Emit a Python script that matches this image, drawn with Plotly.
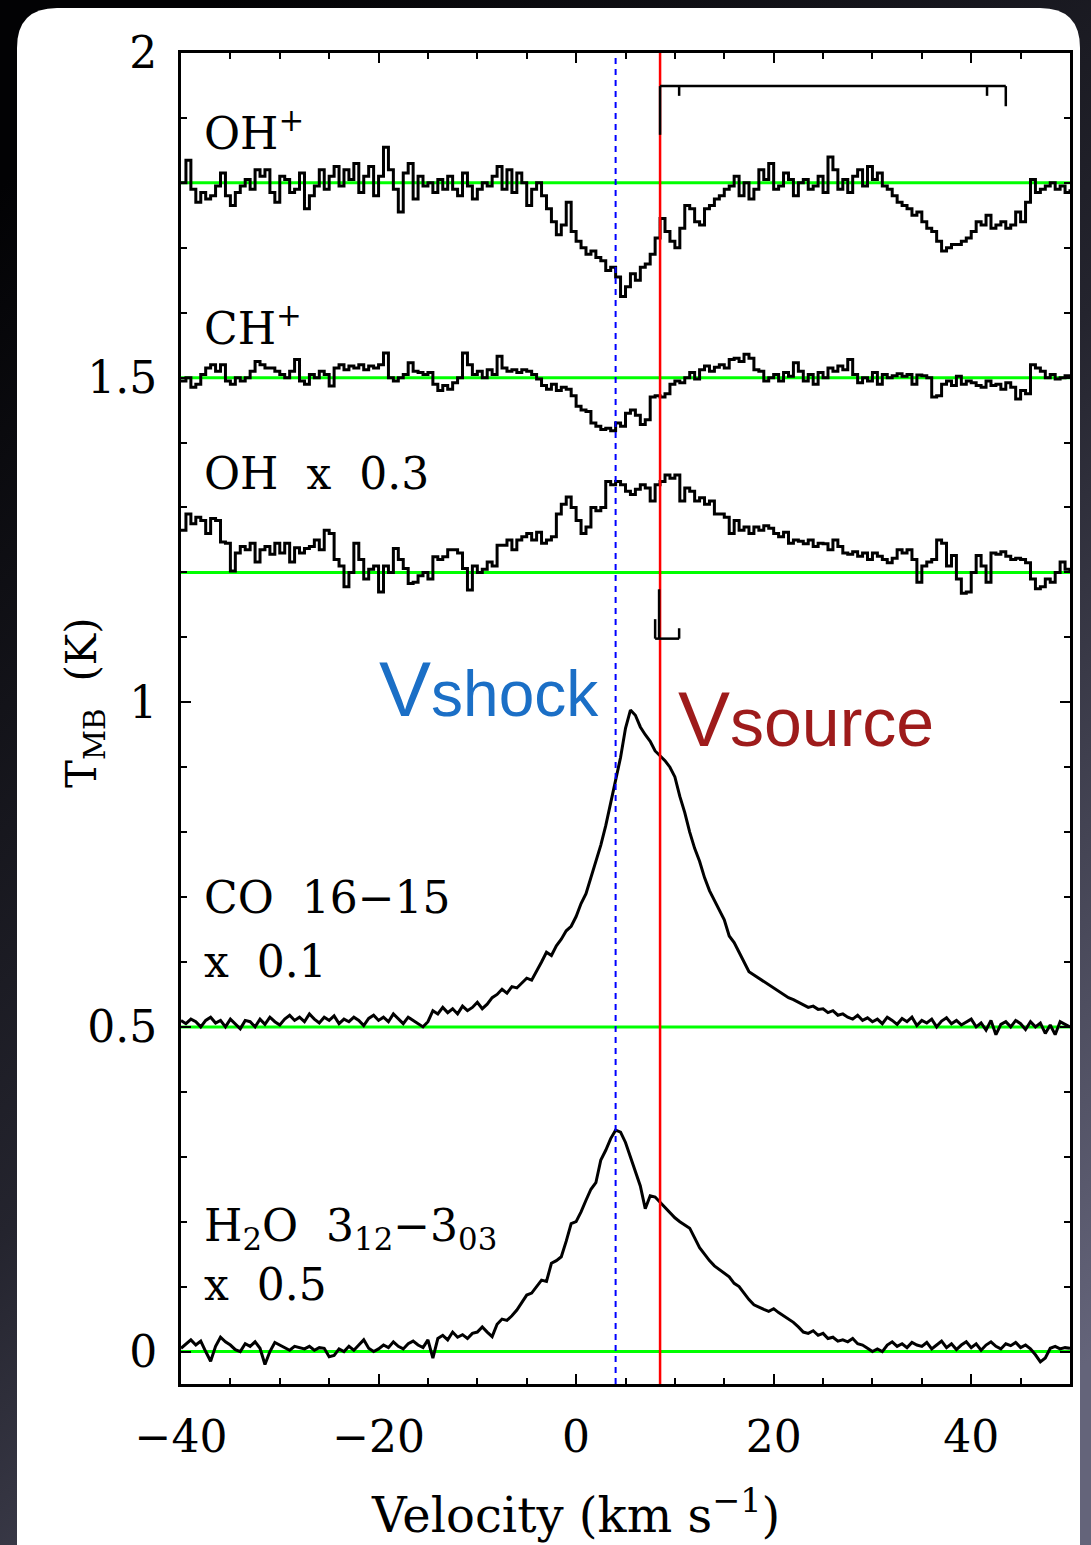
import base64
import plotly.graph_objects as go

# ---------------- data ----------------
v_start = -40.0
v_step = 0.5
n_chan = 181
velocity = [v_start + v_step * i for i in range(n_chan)]

# baselines (K) of the offset spectra
base_ohp = 1.8
base_chp = 1.5
base_oh = 1.2
base_co = 0.5
base_h2o = 0.0

# spectra relative to their baselines (K, already scaled), 0.5 km/s channels from -40 to 50
ohp = [
    0.00, 0.035, -0.01, -0.03, -0.015, -0.025, -0.02, -0.005, 0.015, -0.02,
    -0.035, -0.015, -0.005, 0.005, -0.01, 0.02, 0.01, 0.02, -0.015, -0.03,
    0.01, 0.005, -0.015, -0.01, 0.015, -0.04, -0.02, -0.005, 0.02, -0.01,
    0.01, 0.025, -0.005, 0.02, 0.005, 0.03, -0.015, 0.01, 0.025, -0.02,
    0.01, 0.055, 0.02, -0.01, -0.045, 0.015, 0.03, -0.025, 0.01, -0.005,
    0.0, -0.015, 0.005, -0.01, 0.01, -0.01, -0.02, 0.015, -0.005, -0.025,
    -0.01, 0.0, -0.005, 0.01, 0.025, -0.01, 0.02, -0.015, 0.015, 0.0,
    -0.035, -0.01, 0.0, -0.02, -0.04, -0.06, -0.08, -0.065, -0.03, -0.075,
    -0.09, -0.1, -0.11, -0.105, -0.115, -0.12, -0.135, -0.13, -0.145, -0.175,
    -0.16, -0.14, -0.15, -0.13, -0.125, -0.11, -0.085, -0.055, -0.075, -0.09,
    -0.1, -0.07, -0.035, -0.04, -0.06, -0.065, -0.04, -0.035, -0.025, -0.02,
    -0.01, -0.005, 0.01, -0.02, 0.0, -0.025, -0.01, 0.02, 0.005, 0.03,
    -0.01, -0.005, 0.015, 0.005, -0.02, 0.0, 0.005, -0.01, -0.005, 0.01,
    -0.015, 0.04, 0.02, -0.01, 0.005, -0.015, 0.01, 0.02, -0.005, 0.025,
    0.005, 0.015, -0.005, -0.01, -0.02, -0.03, -0.035, -0.04, -0.05, -0.045,
    -0.06, -0.07, -0.075, -0.09, -0.105, -0.1, -0.095, -0.095, -0.09, -0.085,
    -0.075, -0.06, -0.065, -0.05, -0.07, -0.065, -0.06, -0.07, -0.065, -0.045,
    -0.06, -0.03, 0.005, -0.015, -0.01, -0.005, 0.0, -0.01, -0.005, -0.015,
    -0.01,
]

chp = [
    -0.005, 0.0, -0.015, -0.01, 0.005, 0.015, 0.02, 0.01, 0.02, -0.005,
    -0.01, 0.0, -0.005, 0.0, 0.01, 0.025, 0.02, 0.015, 0.015, 0.01,
    0.005, 0.0, 0.01, 0.028, -0.005, -0.01, 0.005, 0.0, 0.01, 0.005,
    -0.013, 0.015, 0.02, 0.012, 0.018, 0.015, 0.02, 0.012, 0.018, 0.015,
    0.02, 0.038, 0.0, -0.005, 0.0, 0.005, 0.023, 0.01, 0.008, 0.005,
    0.008, -0.01, -0.02, -0.012, -0.018, -0.008, 0.0, 0.038, 0.02, 0.005,
    0.01, 0.0, 0.012, 0.005, 0.033, 0.015, 0.01, 0.012, 0.008, 0.012,
    0.01, 0.005, -0.002, -0.012, -0.018, -0.01, -0.02, -0.015, -0.018, -0.028,
    -0.044, -0.05, -0.052, -0.07, -0.075, -0.08, -0.078, -0.082, -0.07, -0.075,
    -0.055, -0.05, -0.058, -0.072, -0.065, -0.03, -0.028, -0.03, -0.025, -0.01,
    -0.005, -0.008, 0.0, 0.008, -0.002, 0.012, 0.018, 0.01, 0.016, 0.02,
    0.015, 0.028, 0.03, 0.025, 0.036, 0.03, 0.012, 0.01, -0.005, 0.0,
    0.005, -0.005, 0.008, 0.002, 0.023, 0.01, -0.005, 0.005, -0.01, 0.008,
    0.0, 0.015, 0.01, 0.018, 0.012, 0.028, 0.005, -0.008, 0.0, -0.005,
    0.008, -0.01, 0.005, 0.0, 0.003, 0.006, 0.002, 0.005, -0.01, 0.004,
    0.003, 0.0, -0.03, -0.028, -0.01, -0.005, -0.012, 0.002, -0.01, -0.005,
    -0.008, -0.012, -0.015, -0.005, -0.012, -0.01, -0.018, -0.008, -0.015, -0.033,
    -0.02, -0.025, 0.02, 0.015, 0.01, 0.0, 0.005, -0.002, 0.0, 0.003,
    0.0,
]

oh = [
    0.065, 0.09, 0.075, 0.085, 0.08, 0.06, 0.083, 0.08, 0.047, 0.045,
    0.002, 0.03, 0.04, 0.035, 0.045, 0.016, 0.035, 0.04, 0.028, 0.045,
    0.03, 0.045, 0.016, 0.038, 0.03, 0.037, 0.04, 0.05, 0.035, 0.065,
    0.06, 0.02, 0.01, -0.022, 0.0, 0.045, 0.02, -0.01, 0.005, 0.01,
    -0.03, 0.01, 0.0, 0.037, 0.02, 0.006, -0.017, -0.015, -0.005, 0.0,
    -0.01, 0.024, 0.02, 0.024, 0.035, 0.035, 0.03, 0.006, -0.027, 0.01,
    0.0, 0.005, 0.016, 0.01, 0.042, 0.042, 0.05, 0.035, 0.05, 0.055,
    0.06, 0.05, 0.062, 0.045, 0.05, 0.055, 0.09, 0.105, 0.116, 0.1,
    0.08, 0.06, 0.07, 0.1, 0.095, 0.1, 0.14, 0.135, 0.14, 0.135,
    0.125, 0.12, 0.128, 0.135, 0.13, 0.11, 0.135, 0.14, 0.15, 0.145,
    0.15, 0.11, 0.13, 0.125, 0.11, 0.115, 0.105, 0.11, 0.09, 0.09,
    0.085, 0.06, 0.08, 0.065, 0.07, 0.06, 0.07, 0.065, 0.072, 0.068,
    0.06, 0.055, 0.062, 0.045, 0.05, 0.048, 0.044, 0.05, 0.04, 0.045,
    0.044, 0.035, 0.05, 0.04, 0.03, 0.028, 0.032, 0.025, 0.03, 0.02,
    0.03, 0.025, 0.02, 0.015, 0.022, 0.035, 0.03, 0.035, 0.02, -0.015,
    0.01, 0.016, 0.02, 0.05, 0.045, 0.01, 0.026, -0.01, -0.032, -0.03,
    0.0, 0.026, 0.01, -0.015, 0.03, 0.028, 0.032, 0.025, 0.02, 0.022,
    0.02, 0.015, -0.01, -0.025, -0.022, -0.01, -0.015, 0.0, 0.016, 0.005,
    0.0,
]

co = [
    0.01, 0.005, 0.012, 0.008, 0.0, 0.01, 0.015, 0.006, 0.01, 0.0,
    0.012, 0.005, -0.003, 0.01, 0.008, 0.0, 0.012, 0.004, 0.015, 0.008,
    0.003, 0.012, 0.018, 0.01, 0.015, 0.008, 0.02, 0.012, 0.006, 0.015,
    0.01, 0.017, 0.005, 0.012, 0.008, 0.015, 0.01, 0.002, 0.013, 0.018,
    0.01, 0.015, 0.008, 0.02, 0.012, 0.005, 0.015, 0.01, 0.004, 0.0,
    0.008, 0.025, 0.02, 0.03, 0.022, 0.028, 0.02, 0.032, 0.025, 0.03,
    0.038, 0.028, 0.035, 0.045, 0.05, 0.058, 0.052, 0.062, 0.06, 0.068,
    0.075, 0.072, 0.085, 0.1, 0.115, 0.11, 0.125, 0.135, 0.148, 0.155,
    0.17, 0.19, 0.205, 0.23, 0.255, 0.28, 0.31, 0.345, 0.375, 0.415,
    0.46, 0.488, 0.48, 0.462, 0.45, 0.44, 0.425, 0.418, 0.41, 0.4,
    0.385, 0.355, 0.33, 0.3, 0.275, 0.255, 0.23, 0.21, 0.195, 0.18,
    0.165, 0.14, 0.13, 0.115, 0.1, 0.085, 0.08, 0.075, 0.07, 0.065,
    0.06, 0.055, 0.05, 0.045, 0.042, 0.038, 0.035, 0.03, 0.032, 0.027,
    0.028, 0.022, 0.025, 0.018, 0.02, 0.015, 0.012, 0.018, 0.01, 0.014,
    0.008, 0.012, 0.005, 0.015, 0.01, 0.004, 0.013, 0.008, 0.015, 0.002,
    0.01, 0.006, 0.012, 0.0, 0.009, 0.014, 0.005, 0.01, 0.003, 0.008,
    0.012, 0.0, 0.006, -0.005, 0.01, -0.012, 0.004, 0.008, 0.0, 0.01,
    0.005, -0.004, 0.008, 0.0, 0.006, -0.01, 0.003, -0.012, 0.008, 0.004,
    0.0,
]

h2o = [
    0.005, 0.012, 0.018, 0.01, 0.016, 0.0, -0.015, 0.008, 0.022, 0.015,
    0.01, 0.003, 0.0, 0.012, 0.008, 0.015, 0.005, -0.02, 0.0, 0.014,
    0.01, 0.005, 0.002, 0.008, 0.006, 0.004, 0.008, 0.002, 0.006, 0.005,
    -0.008, -0.006, 0.004, 0.0, 0.008, 0.002, 0.01, 0.018, 0.005, 0.0,
    0.004, 0.01, 0.006, 0.015, 0.008, 0.004, 0.012, 0.016, 0.01, 0.006,
    0.018, -0.01, 0.02, 0.025, 0.018, 0.03, 0.022, 0.026, 0.02, 0.028,
    0.03, 0.038, 0.03, 0.023, 0.042, 0.05, 0.048, 0.055, 0.064, 0.075,
    0.087, 0.09, 0.1, 0.11, 0.108, 0.136, 0.14, 0.146, 0.17, 0.197,
    0.2, 0.215, 0.233, 0.25, 0.26, 0.295, 0.31, 0.328, 0.341, 0.338,
    0.322, 0.3, 0.28, 0.255, 0.22, 0.24, 0.238, 0.23, 0.222, 0.213,
    0.206, 0.2, 0.195, 0.19, 0.175, 0.16, 0.15, 0.14, 0.132, 0.126,
    0.12, 0.115, 0.105, 0.1, 0.09, 0.08, 0.072, 0.068, 0.065, 0.062,
    0.066, 0.06, 0.055, 0.05, 0.045, 0.038, 0.03, 0.028, 0.032, 0.025,
    0.028, 0.02, 0.022, 0.016, 0.018, 0.015, 0.02, 0.012, 0.01, 0.005,
    0.0, 0.004, 0.0, 0.01, 0.015, 0.008, 0.012, 0.006, 0.014, 0.01,
    0.008, 0.014, 0.004, 0.01, 0.016, 0.006, 0.012, 0.003, 0.01, 0.015,
    0.006, 0.012, 0.002, 0.01, 0.015, 0.008, 0.004, 0.012, 0.009, 0.014,
    0.006, 0.01, 0.004, -0.005, -0.016, -0.01, 0.005, 0.008, 0.004, 0.006,
    0.005,
]

# reference velocities (km/s)
v_shock = 4.0
v_source = 8.5

# hyperfine structure markers
ohp_hf_v = [8.5, 10.43, 41.6, 43.5]
ohp_hf_len = [0.075, 0.015, 0.015, 0.031]
ohp_hf_top = 1.949
oh_hf_v = [8.0, 8.4, 10.43]
oh_hf_len = [0.03, 0.076, 0.016]
oh_hf_base = 1.098

# axis ranges
x_range = [-40, 50]
y_range = [-0.05, 2.0]

# ---------------- figure ----------------
FIG_W, FIG_H = 1091, 1545
ML, MR, MT, MB = 181, 21, 53, 161
PW = FIG_W - ML - MR
PH = FIG_H - MT - MB


def pxx(px):
    return (px - ML) / PW


def pxy(py):
    return (FIG_H - MB - py) / PH


fig = go.Figure()

# green baselines
for b in [base_ohp, base_chp, base_oh, base_co, base_h2o]:
    fig.add_trace(go.Scatter(x=x_range, y=[b, b], mode="lines",
                             line=dict(color="#00ff00", width=3), hoverinfo="skip"))

# spectra
spectra = [
    (ohp, base_ohp, "hv"),
    (chp, base_chp, "hv"),
    (oh, base_oh, "hv"),
    (co, base_co, "linear"),
    (h2o, base_h2o, "linear"),
]
for vals, b, shape in spectra:
    fig.add_trace(go.Scatter(x=velocity, y=[b + t for t in vals], mode="lines",
                             line=dict(color="black", width=3, shape=shape)))

# reference velocity lines
fig.add_trace(go.Scatter(x=[v_shock, v_shock], y=y_range, mode="lines",
                         line=dict(color="#0000ff", width=2, dash="6px,5px")))
fig.add_trace(go.Scatter(x=[v_source, v_source], y=y_range, mode="lines",
                         line=dict(color="#ff0000", width=2.5)))

# OH+ hyperfine bracket
hx = [ohp_hf_v[0], ohp_hf_v[-1], None]
hy = [ohp_hf_top, ohp_hf_top, None]
for v, l in zip(ohp_hf_v, ohp_hf_len):
    hx += [v, v, None]
    hy += [ohp_hf_top, ohp_hf_top - l, None]
fig.add_trace(go.Scatter(x=hx, y=hy, mode="lines", line=dict(color="black", width=2.5)))

# OH hyperfine marks
ox = [oh_hf_v[0], oh_hf_v[-1], None]
oy = [oh_hf_base, oh_hf_base, None]
for v, l in zip(oh_hf_v, oh_hf_len):
    ox += [v, v, None]
    oy += [oh_hf_base, oh_hf_base + l, None]
fig.add_trace(go.Scatter(x=ox, y=oy, mode="lines", line=dict(color="black", width=2.5)))

# background gradient + white card
svg = ("<svg xmlns='http://www.w3.org/2000/svg' width='1091' height='1545' "
       "viewBox='0 0 1091 1545' preserveAspectRatio='none'><defs>"
       "<linearGradient id='g' x1='0.2' y1='0' x2='0.8' y2='1'>"
       "<stop offset='0' stop-color='#020204'/><stop offset='0.5' stop-color='#24242e'/>"
       "<stop offset='1' stop-color='#64647a'/></linearGradient></defs>"
       "<rect width='1091' height='1545' fill='url(#g)'/></svg>")
src = "data:image/svg+xml;base64," + base64.b64encode(svg.encode()).decode()
fig.add_layout_image(dict(source=src, xref="paper", yref="paper", x=pxx(0), y=pxy(0),
                          sizex=FIG_W / PW, sizey=FIG_H / PH, xanchor="left", yanchor="top",
                          sizing="stretch", layer="below"))

cl, cr, ct, cb, rad = 17, 1080, 8, 1600, 40
L, R, T, B = pxx(cl), pxx(cr), pxy(ct), pxy(cb)
rx, ry = rad / PW, rad / PH
card = (f"M {L+rx},{T} L {R-rx},{T} Q {R},{T} {R},{T-ry} L {R},{B} L {L},{B} "
        f"L {L},{T-ry} Q {L},{T} {L+rx},{T} Z")
fig.add_shape(type="path", path=card, xref="paper", yref="paper",
              fillcolor="white", line=dict(width=0), layer="below")

serif = "DejaVu Serif"
axis_common = dict(showline=True, linecolor="black", linewidth=3, mirror="allticks",
                   ticks="inside", ticklen=10, tickwidth=2, tickcolor="black",
                   showgrid=False, zeroline=False,
                   tickfont=dict(family=serif, size=44, color="black"))
fig.update_xaxes(range=x_range, tick0=-40, dtick=20,
                 minor=dict(dtick=5, ticks="inside", ticklen=6, tickwidth=2, tickcolor="black"),
                 ticklabelstandoff=12, **axis_common)
fig.update_yaxes(range=y_range, tick0=0, dtick=0.5,
                 minor=dict(dtick=0.1, ticks="inside", ticklen=6, tickwidth=2, tickcolor="black"),
                 ticklabelstandoff=12, **axis_common)

ann_font = dict(family=serif, size=44, color="black")
labels = [
    ("OH<sup>+</sup>", 1.88),
    ("CH<sup>+</sup>", 1.58),
    ("OH  x  0.3", 1.352),
    ("CO  16\u221215", 0.70),
    ("x  0.1", 0.60),
    ("H<sub>2</sub>O  3<sub>12</sub>\u22123<sub>03</sub>", 0.19),
    ("x  0.5", 0.103),
]
for txt, yv in labels:
    fig.add_annotation(x=-37.9, y=yv, xref="x", yref="y", text=txt, showarrow=False,
                       xanchor="left", yanchor="middle", font=ann_font)

sans = "Liberation Sans"
fig.add_annotation(x=2.5, y=1.02, xref="x", yref="y", showarrow=False,
                   xanchor="right", yanchor="middle",
                   text="<span style='font-size:78px'>V</span><span style='font-size:64px'>shock</span>",
                   font=dict(family=sans, size=64, color="#1b6fc6"))
fig.add_annotation(x=10.1, y=0.975, xref="x", yref="y", showarrow=False,
                   xanchor="left", yanchor="middle",
                   text="<span style='font-size:78px'>V</span><span style='font-size:68px'>source</span>",
                   font=dict(family=sans, size=68, color="#9e1b1b"))

# axis titles
fig.add_annotation(x=pxx(575), y=pxy(1512), xref="paper", yref="paper", showarrow=False,
                   text="Velocity (km s<sup>\u22121</sup>)", xanchor="center", yanchor="middle",
                   font=dict(family=serif, size=48, color="black"))
fig.add_annotation(x=pxx(84), y=pxy(703), xref="paper", yref="paper", showarrow=False,
                   text="T<sub>MB</sub>  (K)", textangle=-90, xanchor="center", yanchor="middle",
                   font=dict(family=serif, size=42, color="black"))

fig.update_layout(width=FIG_W, height=FIG_H, margin=dict(l=ML, r=MR, t=MT, b=MB),
                  paper_bgcolor="#22222c", plot_bgcolor="rgba(0,0,0,0)", showlegend=False)

fig.write_html("out.html")
